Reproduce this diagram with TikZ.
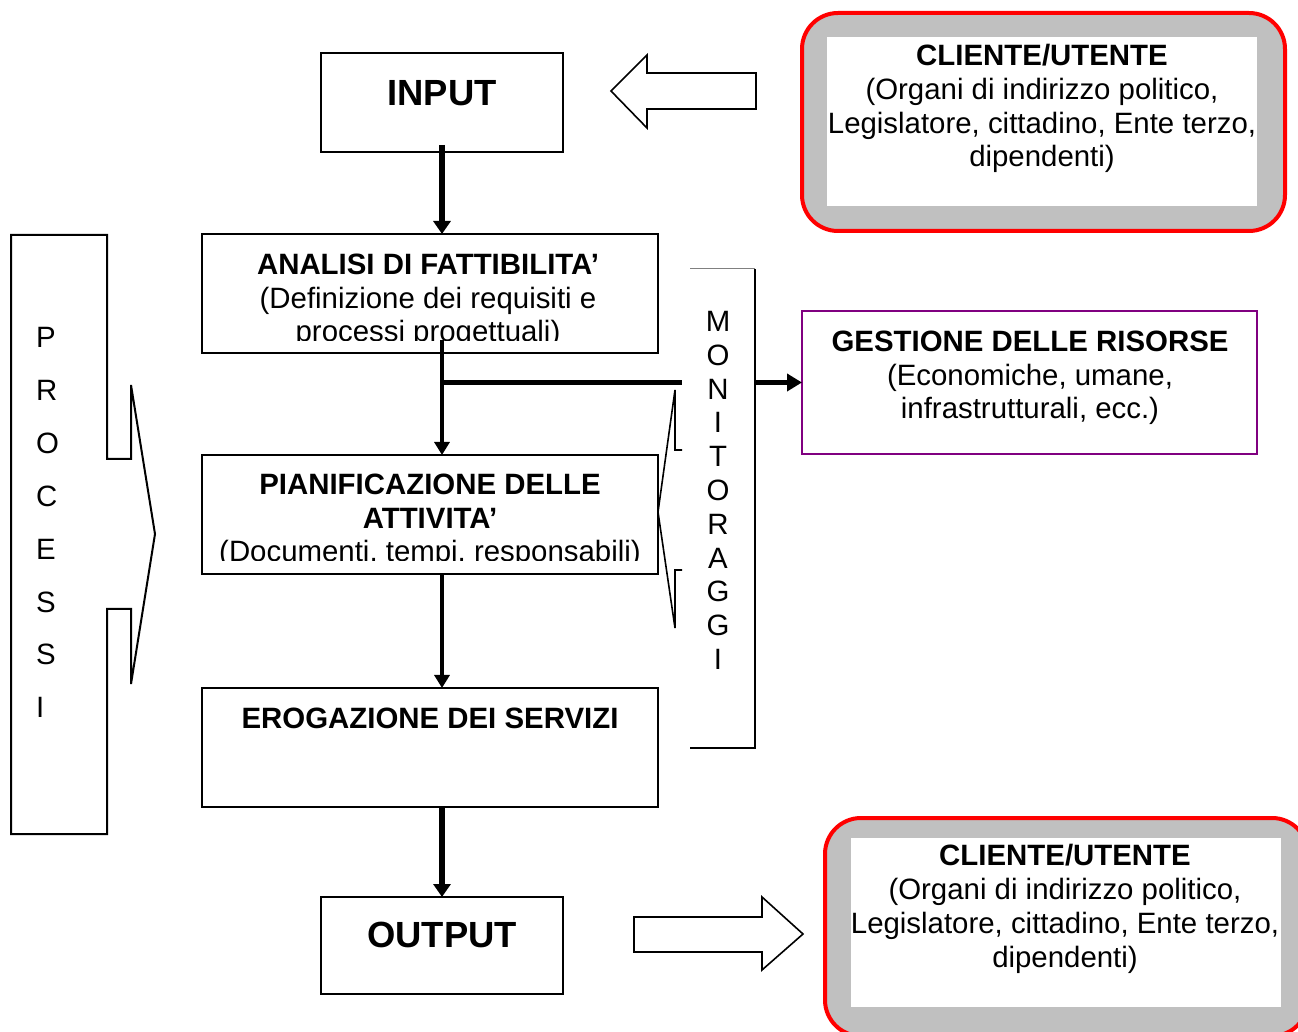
\documentclass[tikz,border=0pt]{standalone}
\usepackage{fontspec}
\setmainfont{Liberation Sans}
\usetikzlibrary{arrows.meta,calc}
\tikzset{inner sep=0pt, outer sep=0pt}
\definecolor{clientred}{RGB}{255,0,0}
\definecolor{clientgrey}{RGB}{192,192,192}
\definecolor{risorse}{RGB}{128,0,128}
\tikzset{
  box/.style={draw, line width=1.25pt, minimum width=228pt, minimum height=59.5pt},
  smallbox/.style={draw, line width=1.25pt, minimum width=121pt},
  txt/.style={align=center, font=\fontsize{14.7}{16.85}\selectfont},
  big/.style={font=\fontsize{18.2}{21}\selectfont\bfseries},
  flow/.style={line width=2pt, -{Triangle[width=7.5pt,length=6.5pt]}},
  heavy/.style={line width=3pt, -{Triangle[width=8.5pt,length=6.5pt]}},
  blockarrow/.style={draw, line width=0.8pt, fill=white},
  client/.style={draw=clientred, line width=2pt, fill=clientgrey, rounded corners=18pt,
    minimum width=241.5pt, minimum height=109pt},
  clientin/.style={fill=white, minimum width=215pt, minimum height=84.5pt},
}

\begin{document}
\begin{tikzpicture}[x=0.5pt, y=-0.5pt]
\useasboundingbox (0,0) rectangle (1298,1032);
\clip (0,0) rectangle (1298,1032);

% main flow
\node[smallbox, minimum height=49.5pt] (input) at (442,102.5) {};
\node[box] (analisi) at (430,293.5) {};
\node[box] (pianif) at (430,514.5) {};
\node[box] (erog) at (430,747.5) {};
\node[smallbox, minimum height=48.5pt] (output) at (442,945.5) {};

\node[txt, big, anchor=base] (input-t) at (442,106) {INPUT};
\begin{scope}
  \clip (202,234) rectangle (658,341);
  \node[txt, anchor=base] (analisi-t) at (428,342)
    {\textbf{ANALISI DI FATTIBILITA’}\\(Definizione dei requisiti e\\processi progettuali)};
\end{scope}
\begin{scope}
  \clip (202,455) rectangle (658,561);
  \node[txt, anchor=base] (pianif-t) at (430,562)
    {\textbf{PIANIFICAZIONE DELLE}\\\textbf{ATTIVITA’}\\(Documenti, tempi, responsabili)};
\end{scope}
\node[txt, anchor=base] (erog-t) at (430,728) {\textbf{EROGAZIONE DEI SERVIZI}};
\node[txt, big, anchor=base] (output-t) at (442,947) {OUTPUT};

% clienti
\node[client] (cliente-in) at (1043.5,122) {};
\node[clientin] (cliente-in-w) at (1042,121.5) {};
\node[txt, anchor=base] (cliente-in-t) at (1042,167)
  {\textbf{CLIENTE/UTENTE}\\(Organi di indirizzo politico,\\Legislatore, cittadino, Ente terzo,\\dipendenti)};
\node[client] (cliente-out) at (1066.5,927) {};
\node[clientin] (cliente-out-w) at (1066,922.5) {};
\node[txt, anchor=base] (cliente-out-t) at (1065,967)
  {\textbf{CLIENTE/UTENTE}\\(Organi di indirizzo politico,\\Legislatore, cittadino, Ente terzo,\\dipendenti)};

% risorse
\node[draw=risorse, line width=1.25pt, minimum width=227.5pt, minimum height=71.5pt]
  (gestione) at (1029.5,382.5) {};
\node[txt, anchor=base] (gestione-t) at (1030,419)
  {\textbf{GESTIONE DELLE RISORSE}\\(Economiche, umane,\\infrastrutturali, ecc.)};

% connectors
\coordinate (branch) at (input.south |- gestione.west);
\coordinate (monL) at (682,382.5);
\coordinate (monR) at (755,382.5);
\draw[heavy] ($(input.south)+(0,-7)$) -- (input.south |- analisi.north);
\draw[flow] ($(input.south |- analisi.south)+(0,-13)$) -- (input.south |- pianif.north);
\draw[line width=2.5pt] (branch) -- (monL);
\draw[line width=2.5pt, -{Triangle[width=8.5pt,length=7.5pt]}] (monR) -- (gestione.west);
\draw[flow] (input.south |- pianif.south) -- (input.south |- erog.north);
\draw[heavy] (output.north |- erog.south) -- (output.north);

% block arrows
\draw[blockarrow] (756,73) -- (647,73) -- (647,55) -- (611,91) -- (647,128) -- (647,109) -- (756,109) -- cycle;
\draw[blockarrow] (634,917) -- (762,917) -- (762,897) -- (803,934) -- (762,970) -- (762,952) -- (634,952) -- cycle;

% processi
\draw[line width=1pt] (11,235) -- (107,235) -- (107,459) -- (131,459) -- (131,385) -- (155,534)
  -- (131,684) -- (131,609) -- (107,609) -- (107,834) -- (11,834) -- cycle;
\foreach \letter [count=\i] in {P,R,O,C,E,S,S,I} {
  \node[txt, anchor=base west] (processi-\i) at (36,294.6+52.9*\i) {\letter};
} % end of \foreach \letter

% monitoraggi
\draw[gray, line width=0.5pt] (690,269) -- (755,269);
\draw[line width=1pt] (755,269) -- (755,748) -- (690,748);
\draw[line width=0.8pt] (682,450) -- (675,450) -- (675,390) -- (658,512) -- (675,628) -- (675,570) -- (682,570);
\foreach \letter [count=\i] in {M,O,N,I,T,O,R,A,G,G,I} {
  \node[txt, anchor=base] (monitoraggi-\i) at (718,297.7+33.8*\i) {\letter};
} % end of \foreach \letter
\end{tikzpicture}
\end{document}
